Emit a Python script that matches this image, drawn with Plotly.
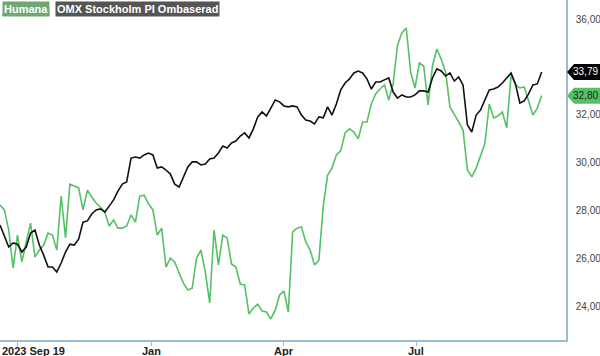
import plotly.graph_objects as go
import pandas as pd

start_date = "2023-09-19"
step = "3D"

humana = [28.23, 28.02, 27.18, 25.59, 26.97, 25.84, 26.68, 27.47, 26.05, 26.34,
          26.55, 27.05, 26.97, 26.34, 28.60, 26.85, 29.10, 29.02, 28.94, 28.02,
          28.85, 28.56, 28.31, 28.14, 27.93, 27.35, 27.60, 27.26, 27.26, 27.35,
          27.81, 27.51, 28.60, 28.64, 28.27, 28.02, 26.97, 27.26, 25.63, 26.01,
          25.84, 25.38, 24.96, 24.67, 24.75, 26.01, 26.34, 25.42, 24.13, 27.18,
          25.72, 26.97, 26.85, 25.76, 25.63, 24.92, 24.88, 23.67, 23.92, 24.08,
          23.79, 23.75, 23.46, 23.83, 24.46, 24.63, 23.75, 27.10, 27.26, 27.31,
          26.68, 26.34, 25.72, 25.92, 28.18, 29.48, 29.77, 30.32, 30.49, 31.24,
          31.41, 31.28, 30.99, 31.70, 31.70, 32.45, 32.87, 33.08, 33.25, 32.62,
          33.29, 34.92, 35.42, 35.63, 33.79, 33.12, 34.17, 34.04, 32.41, 34.04,
          34.75, 34.33, 33.79, 32.33, 32.03, 31.70, 31.36, 29.69, 29.40, 29.77,
          30.28, 30.78, 32.45, 31.87, 31.95, 32.12, 31.45, 33.67, 33.25, 33.12,
          33.16, 32.62, 31.99, 32.28, 32.80]

omx = [27.39, 26.89, 26.47, 26.64, 26.59, 26.26, 26.47, 27.05, 27.18, 26.55,
       26.13, 25.63, 25.63, 25.42, 25.80, 26.26, 26.59, 26.55, 26.80, 27.51,
       27.56, 27.85, 28.02, 28.06, 27.93, 28.18, 28.44, 28.81, 29.10, 29.19,
       30.19, 30.23, 30.19, 30.32, 30.40, 30.32, 29.77, 29.82, 29.69, 29.52,
       29.10, 28.98, 29.44, 29.82, 30.03, 30.03, 29.90, 29.94, 30.15, 30.19,
       30.40, 30.69, 30.61, 30.82, 30.90, 31.11, 31.24, 31.03, 31.41, 31.91,
       32.12, 31.95, 32.28, 32.62, 32.54, 32.37, 32.33, 32.37, 32.33, 31.99,
       31.78, 31.74, 31.62, 31.91, 31.87, 32.33, 31.99, 32.45, 33.04, 33.33,
       33.50, 33.75, 33.83, 33.75, 33.50, 33.08, 33.37, 33.37, 33.46, 33.54,
       32.95, 32.70, 32.83, 32.74, 32.74, 32.83, 33.00, 33.00, 32.95, 33.54,
       33.92, 33.83, 33.62, 33.75, 33.41, 33.58, 33.25, 31.57, 31.28, 31.99,
       32.20, 32.62, 33.04, 33.08, 33.16, 33.33, 33.54, 33.75, 33.29, 32.49,
       32.58, 32.87, 33.25, 33.29, 33.79]

series_names = ["Humana", "OMX Stockholm PI Ombaserad"]
x_tick_dates = ["2023-10-01", "2024-01-01", "2024-04-01", "2024-07-01"]
x_tick_text = ["2023 Sep 19", "Jan", "Apr", "Jul"]
y_tick_vals = [24, 26, 28, 30, 32, 36]
y_tick_text = ["24,00", "26,00", "28,00", "30,00", "32,00", "36,00"]

GREEN = "#55c065"
BLACK = "#111111"
AXIS = "#9bbbd0"
FONT = "Liberation Sans, Arial, sans-serif"

dates = pd.date_range(start_date, periods=len(humana), freq=step)

y_lo, y_hi = 22.58, 36.80
x_lo, x_hi = "2023-09-19", "2024-10-11 17:00"

fig = go.Figure()
fig.add_trace(go.Scatter(x=dates, y=humana, mode="lines", name=series_names[0],
                         line=dict(color=GREEN, width=1.6)))
fig.add_trace(go.Scatter(x=dates, y=omx, mode="lines", name=series_names[1],
                         line=dict(color=BLACK, width=1.6)))

fig.update_layout(
    width=600, height=356,
    margin=dict(l=0, r=34, t=0, b=16, autoexpand=False),
    paper_bgcolor="white", plot_bgcolor="white",
    showlegend=False,
    font=dict(family=FONT, size=11, color="#333"),
    xaxis=dict(type="date", range=[x_lo, x_hi], showgrid=False, zeroline=False,
               automargin=False, showticklabels=False,
               showline=True, linecolor=AXIS, linewidth=1.5,
               ticks="outside", ticklen=4, tickcolor=AXIS, tickwidth=1,
               tickvals=x_tick_dates),
    yaxis=dict(side="right", range=[y_lo, y_hi], showgrid=False, zeroline=False,
               automargin=False,
               showline=True, linecolor=AXIS, linewidth=1.5,
               ticks="outside", ticklen=6, tickcolor="rgba(0,0,0,0)",
               tickvals=y_tick_vals, ticktext=y_tick_text,
               tickfont=dict(family=FONT, size=10, color="#444")),
)

# x tick labels as annotations (kept inside the page)
for i, (d, t) in enumerate(zip(x_tick_dates, x_tick_text)):
    if i == 0:
        fig.add_annotation(x=0, xref="paper", y=0, yref="paper", xanchor="left", yanchor="top",
                           yshift=-3, text="<b>%s</b>" % t, showarrow=False,
                           font=dict(family=FONT, size=11, color="#222"))
    else:
        fig.add_annotation(x=d, xref="x", y=0, yref="paper", xanchor="center", yanchor="top",
                           yshift=-3, text="<b>%s</b>" % t, showarrow=False,
                           font=dict(family=FONT, size=11, color="#222"))

# legend boxes
fig.add_annotation(x=0.0035, xref="paper", y=0.997, yref="paper", xanchor="left", yanchor="top",
                   text="<b>%s</b>" % series_names[0], showarrow=False, bgcolor="#6ea873",
                   borderpad=1, font=dict(family=FONT, size=11, color="white"))
fig.add_shape(type="line", xref="paper", yref="paper", x0=0.0035, x1=0.088,
              y0=0.957, y1=0.957, line=dict(color=GREEN, width=2))
fig.add_annotation(x=0.098, xref="paper", y=0.997, yref="paper", xanchor="left", yanchor="top",
                   text="<b>%s</b>" % series_names[1], showarrow=False, bgcolor="#555555",
                   borderpad=1, font=dict(family=FONT, size=11, color="white"))

# last-value price tags
def tag(value, bg, fg):
    py = (value - y_lo) / (y_hi - y_lo)
    fig.add_shape(type="path", xref="paper", yref="paper", xsizemode="pixel", ysizemode="pixel",
                  xanchor=1, yanchor=py,
                  path="M1,0 L8,8 L36,8 L36,-8 L8,-8 Z",
                  fillcolor=bg, line=dict(width=0), layer="above")
    fig.add_annotation(x=1, xref="paper", y=value, yref="y", xanchor="left", xshift=5,
                       text=("%.2f" % value).replace(".", ","), showarrow=False,
                       font=dict(family=FONT, size=10, color=fg))

tag(omx[-1], "#000000", "white")
tag(humana[-1], GREEN, "#222")

fig.write_html("out.html", config={"displayModeBar": False},
               post_script="document.body.style.margin='0';")
